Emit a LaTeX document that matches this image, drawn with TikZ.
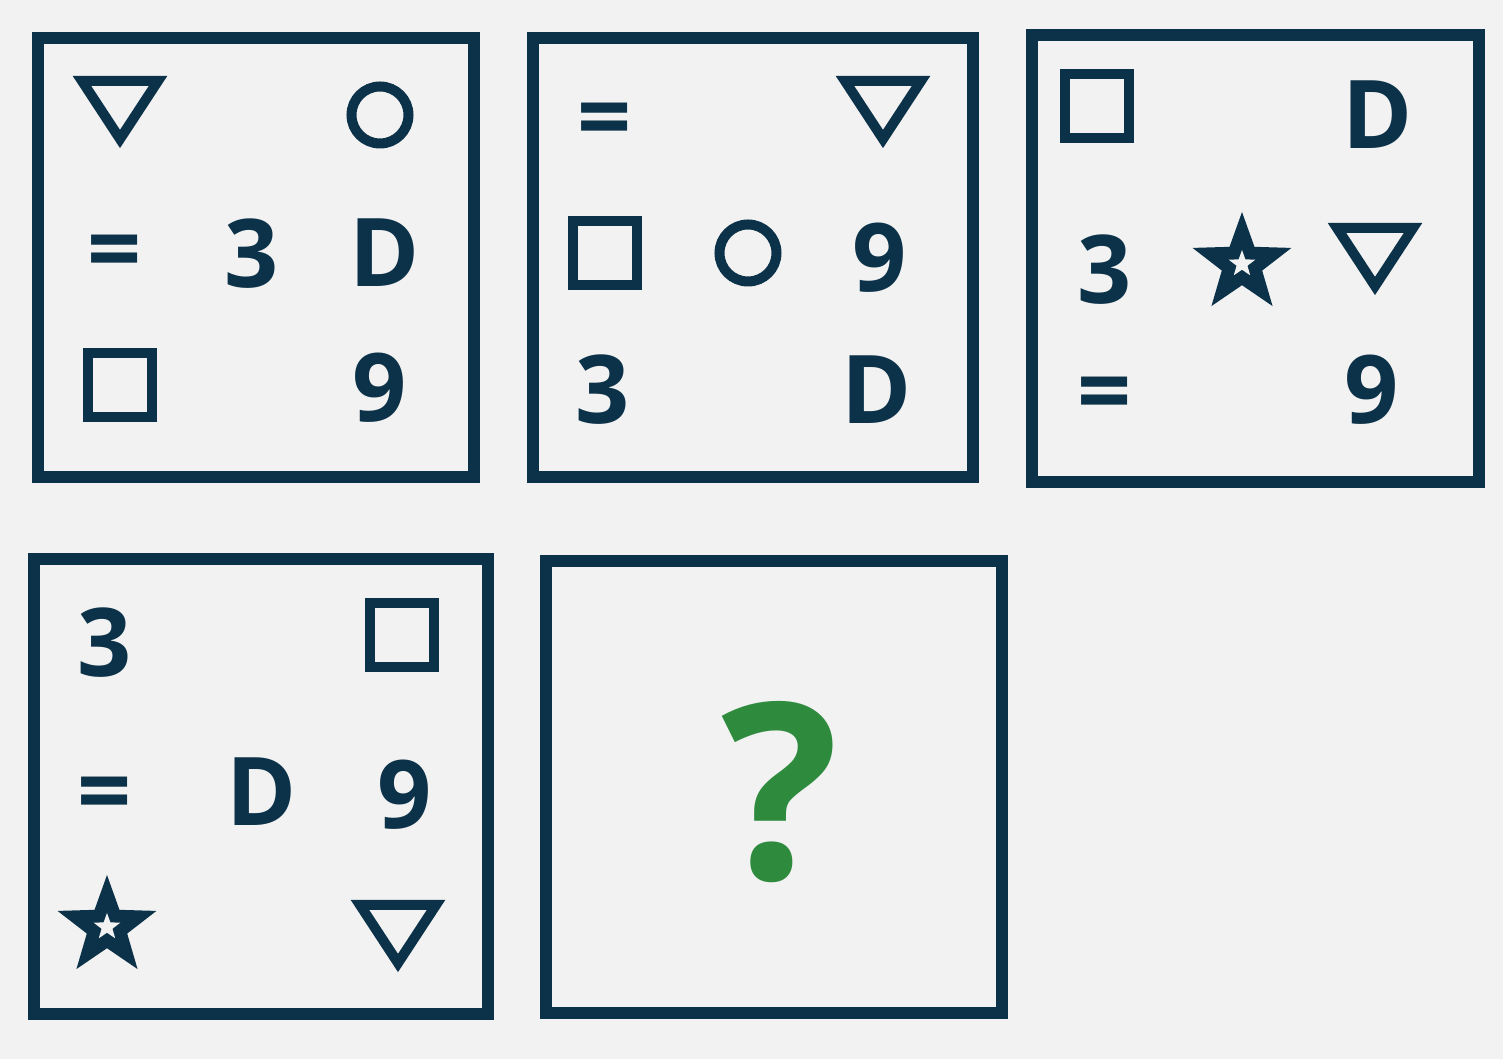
\documentclass[tikz,border=0pt]{standalone}
\usepackage{fontspec}
\setmainfont{Open Sans}
\usetikzlibrary{shapes.geometric}
\definecolor{ink}{HTML}{0C3249}
\definecolor{bg}{HTML}{F2F2F2}
\definecolor{qgreen}{HTML}{2E8B3E}
\tikzset{
  panel/.style={draw=ink, line width=0.12cm, inner sep=0pt},
  glyph/.style={text=ink, font=\bfseries\fontsize{27}{30}\selectfont, inner sep=0pt},
  markline/.style={draw=ink, line width=0.1cm, miter limit=10},
  ringmark/.style={markline, circle, minimum size=0.57cm, inner sep=0pt},
  boxmark/.style={markline, rectangle, minimum size=0.645cm, inner sep=0pt},
  bigstar/.style={star, star points=5, star point ratio=2.45, minimum size=1.04cm, inner sep=0pt, fill=ink},
  holestar/.style={star, star points=5, star point ratio=2.45, minimum size=0.28cm, inner sep=0pt, fill=bg},
  tri/.pic={\draw[markline] (-0.38,0.31) -- (0.38,0.31) -- (0,-0.27) -- cycle;}
}
\begin{document}
\begin{tikzpicture}
\fill[bg] (0,0) rectangle (15.03,10.59);
% panels
\node (b1) [panel, minimum width=4.36cm, minimum height=4.39cm] at (2.56,8.015) {};
\node (b2) [panel, minimum width=4.40cm, minimum height=4.39cm] at (7.53,8.015) {};
\node (b3) [panel, minimum width=4.47cm, minimum height=4.47cm] at (12.555,8.005) {};
\node (b4) [panel, minimum width=4.54cm, minimum height=4.55cm] at (2.61,2.725) {};
\node (b5) [panel, minimum width=4.56cm, minimum height=4.52cm] at (7.74,2.72) {};
% panel 1
\pic at (1.20,9.47) {tri};
\node (b1o) [ringmark] at (3.80,9.44) {};
\node (b1e) [glyph] at (1.15,8.00) {=};
\node (b1t) [glyph] at (2.52,8.05) {3};
\node (b1d) [glyph] at (3.85,8.06) {D};
\node (b1s) [boxmark] at (1.20,6.74) {};
\node (b1n) [glyph] at (3.80,6.71) {9};
% panel 2
\node (b2e) [glyph] at (6.05,9.32) {=};
\pic at (8.83,9.47) {tri};
\node (b2s) [boxmark] at (6.05,8.06) {};
\node (b2o) [ringmark] at (7.48,8.06) {};
\node (b2n) [glyph] at (8.80,8.01) {9};
\node (b2t) [glyph] at (6.03,6.69) {3};
\node (b2d) [glyph] at (8.77,6.69) {D};
% panel 3
\node (b3s) [boxmark] at (10.97,9.53) {};
\node (b3d) [glyph] at (13.78,9.44) {D};
\node (b3t) [glyph] at (11.05,7.89) {3};
\node (b3k) [bigstar] at (12.42,7.95) {};
\node (b3k-in) [holestar] at (b3k) {};
\pic at (13.75,8.00) {tri};
\node (b3e) [glyph] at (11.05,6.58) {=};
\node (b3n) [glyph] at (13.72,6.69) {9};
% panel 4
\node (b4t) [glyph] at (1.05,4.16) {3};
\node (b4s) [boxmark] at (4.02,4.24) {};
\node (b4e) [glyph] at (1.05,2.58) {=};
\node (b4d) [glyph] at (2.62,2.67) {D};
\node (b4n) [glyph] at (4.05,2.64) {9};
\node (b4k) [bigstar] at (1.07,1.32) {};
\node (b4k-in) [holestar] at (b4k) {};
\pic at (3.98,1.23) {tri};
% panel 5
\node (b5q) [text=qgreen, font=\bfseries\fontsize{70}{72}\selectfont, inner sep=0pt] at (7.80,2.67) {?};
\end{tikzpicture}
\end{document}
